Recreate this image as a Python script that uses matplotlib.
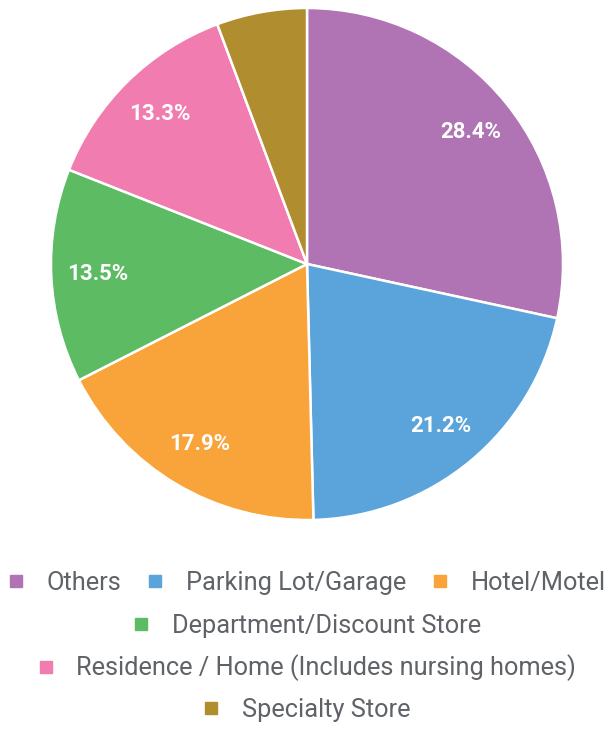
import matplotlib.pyplot as plt
from matplotlib.lines import Line2D

plt.rcParams['font.family'] = ['Roboto', 'DejaVu Sans']

labels = ["Others", "Parking Lot/Garage", "Hotel/Motel", "Department/Discount Store",
          "Residence / Home (Includes nursing homes)", "Specialty Store"]
values = [28.4, 21.2, 17.9, 13.5, 13.3, 5.7]
colors = ["#b074b4", "#5ba3db", "#f9a43a", "#5dbb63", "#f07cb0", "#b08d2e"]
legend_rows = [[0, 1, 2], [3], [4], [5]]

fig = plt.figure(figsize=(6.08, 7.29), dpi=100)
ax = fig.add_axes([51 / 608, (729 - 520) / 729, 512 / 608, 512 / 729])

wedges, texts, autotexts = ax.pie(
    values, colors=colors, startangle=90, counterclock=False,
    autopct=lambda p: f"{p:.1f}%" if p > 6 else "",
    pctdistance=0.82,
    wedgeprops=dict(edgecolor="white", linewidth=1.8),
    textprops=dict(color="white", fontsize=16, fontweight="bold"))
ax.set_xlim(-1.0, 1.0)
ax.set_ylim(-1.0, 1.0)

# legend, one centered row at a time
row_y = [583, 626, 668, 710]
for row, y in zip(legend_rows, row_y):
    handles = [Line2D([], [], marker='s', linestyle='', markersize=8,
                      markerfacecolor=colors[i], markeredgecolor=colors[i]) for i in row]
    leg = fig.legend(handles, [labels[i] for i in row], loc='center',
                     bbox_to_anchor=(0.505, 1 - y / 729), ncol=len(row), frameon=False,
                     fontsize=18.3, handlelength=0.6, handletextpad=0.9,
                     columnspacing=1.05, borderpad=0, borderaxespad=0)
    for t in leg.get_texts():
        t.set_color("#5f6368")

fig.savefig("out.png", dpi=100)
